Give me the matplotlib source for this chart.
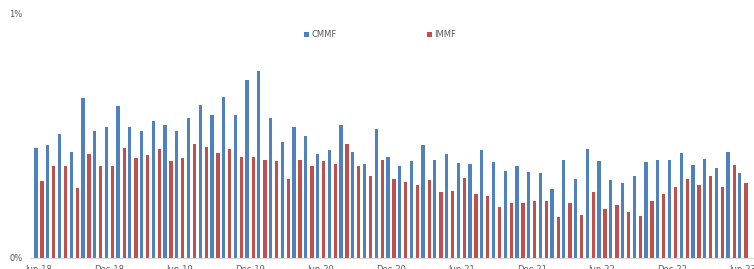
import numpy as np
import matplotlib
matplotlib.use("Agg")
import matplotlib.pyplot as plt

# monthly values, Jun-18 .. Jun-23 (percent)
cmmf = [0.450, 0.462, 0.508, 0.433, 0.656, 0.519, 0.537, 0.622, 0.538, 0.520,
        0.560, 0.544, 0.519, 0.575, 0.626, 0.587, 0.660, 0.587, 0.730, 0.766,
        0.572, 0.474, 0.537, 0.499, 0.425, 0.444, 0.545, 0.434, 0.384, 0.529,
        0.415, 0.376, 0.397, 0.462, 0.400, 0.428, 0.391, 0.385, 0.441, 0.393,
        0.357, 0.376, 0.352, 0.348, 0.283, 0.400, 0.322, 0.447, 0.397, 0.320,
        0.307, 0.335, 0.395, 0.403, 0.400, 0.430, 0.381, 0.406, 0.367, 0.433,
        0.347]
immf = [0.316, 0.377, 0.377, 0.288, 0.426, 0.377, 0.377, 0.452, 0.408, 0.421,
        0.447, 0.396, 0.411, 0.467, 0.456, 0.430, 0.445, 0.414, 0.414, 0.403,
        0.397, 0.324, 0.400, 0.377, 0.397, 0.384, 0.466, 0.377, 0.335, 0.400,
        0.324, 0.311, 0.298, 0.320, 0.269, 0.273, 0.327, 0.264, 0.255, 0.209,
        0.227, 0.224, 0.234, 0.232, 0.169, 0.225, 0.176, 0.270, 0.201, 0.217,
        0.187, 0.172, 0.232, 0.261, 0.292, 0.322, 0.298, 0.337, 0.292, 0.381,
        0.306]
tick_labels = ["Jun-18", "Dec-18", "Jun-19", "Dec-19", "Jun-20", "Dec-20",
               "Jun-21", "Dec-21", "Jun-22", "Dec-22", "Jun-23"]

blue = "#4F81BD"
red = "#C0504D"
grey = "#595959"

fig = plt.figure(figsize=(7.54, 2.69), dpi=100)
ax = fig.add_axes([0.0393, 0.0409, 0.9607, 0.9071])

x = np.arange(len(cmmf))
w = 0.28
ax.bar(x - 0.26, cmmf, width=w, color=blue, label="CMMF")
ax.bar(x + 0.26, immf, width=w, color=red, label="IMMF")

ax.set_xlim(-0.8, 60.95)
ax.set_ylim(0, 1)
ax.set_yticks([0, 1])
ax.set_yticklabels(["0%", "1%"])
ax.set_xticks(np.arange(0, len(cmmf), 6))
ax.set_xticklabels(tick_labels)
ax.tick_params(axis="both", length=0, labelsize=6, labelcolor=grey)
ax.tick_params(axis="x", pad=5)
ax.tick_params(axis="y", pad=5)

for s in ["top", "right", "left"]:
    ax.spines[s].set_visible(False)
ax.spines["bottom"].set_color("#D9D9D9")
ax.spines["bottom"].set_linewidth(0.8)

fig.legend(loc="center", bbox_to_anchor=(0.504, 0.87), ncol=2, frameon=False,
           fontsize=6, labelcolor=grey, handlelength=0.6, handleheight=0.6,
           handletextpad=0.3, columnspacing=10.8)

fig.savefig("out.png", dpi=100)
